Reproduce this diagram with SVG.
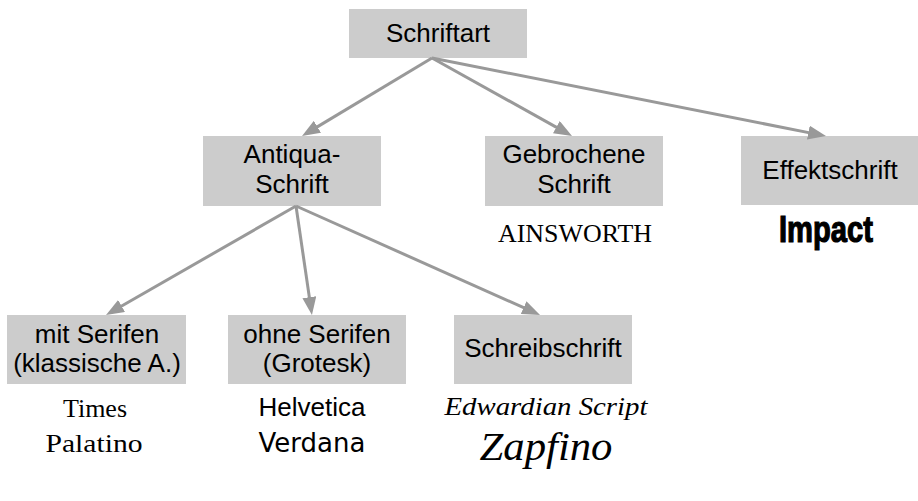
<svg xmlns="http://www.w3.org/2000/svg" width="918" height="501" viewBox="0 0 918 501">
<style>
.box{fill:#cccccc}
.lbl{font-family:"Liberation Sans",Arial,Helvetica,sans-serif;font-size:26px;fill:#000;text-anchor:middle}
.conn{stroke:#999999;stroke-width:3;fill:none;marker-end:url(#ah)}
.serif{font-family:"Liberation Serif","Times New Roman",serif;font-size:26px;fill:#000;text-anchor:middle}
.sans{font-family:"Liberation Sans",Arial,sans-serif;font-size:26px;fill:#000;text-anchor:middle}
.verd{font-family:"DejaVu Sans",Verdana,sans-serif;font-size:26px;fill:#000;text-anchor:middle}
.script{font-family:"Liberation Serif",serif;font-style:italic;fill:#000;text-anchor:middle}
</style>
<defs>
<marker id="ah" markerUnits="userSpaceOnUse" markerWidth="18" markerHeight="14" viewBox="0 0 18 14" refX="8" refY="7" orient="auto">
<path d="M0,0 L18,7 L0,14 z" fill="#999999"/>
</marker>
</defs>
<rect width="918" height="501" fill="#ffffff"/>
<g id="n-schriftart">
<rect class="box" x="349" y="9" width="178" height="49"/>
<text class="lbl" x="438" y="42">Schriftart</text>
</g>
<g id="n-antiqua">
<rect class="box" x="203" y="136" width="178" height="70"/>
<text class="lbl" x="292" y="163">Antiqua-</text>
<text class="lbl" x="292" y="193">Schrift</text>
</g>
<g id="n-gebrochene">
<rect class="box" x="485" y="136" width="178" height="70"/>
<text class="lbl" x="574" y="163">Gebrochene</text>
<text class="lbl" x="574" y="193">Schrift</text>
<text class="serif" x="575" y="242" font-size="27" textLength="154" lengthAdjust="spacingAndGlyphs">AINSWORTH</text>
</g>
<g id="n-effekt">
<rect class="box" x="741" y="136" width="178" height="69"/>
<text class="lbl" x="830" y="179">Effektschrift</text>
<text x="826" y="242" font-family="Impact,'Liberation Sans',sans-serif" font-weight="bold" font-size="36" text-anchor="middle" stroke="#000" stroke-width="1.2" textLength="94" lengthAdjust="spacingAndGlyphs">Impact</text>
</g>
<g id="n-mit">
<rect class="box" x="7" y="315" width="179" height="69"/>
<text class="lbl" x="97" y="343">mit Serifen</text>
<text class="lbl" x="97" y="372">(klassische A.)</text>
<text class="serif" x="95" y="417">Times</text>
<text class="serif" x="94" y="452" textLength="97" lengthAdjust="spacingAndGlyphs">Palatino</text>
</g>
<g id="n-ohne">
<rect class="box" x="228" y="315" width="178" height="69"/>
<text class="lbl" x="317" y="343">ohne Serifen</text>
<text class="lbl" x="317" y="372">(Grotesk)</text>
<text class="sans" x="312" y="416">Helvetica</text>
<text class="verd" x="312" y="452">Verdana</text>
</g>
<g id="n-schreib">
<rect class="box" x="454" y="315" width="178" height="69"/>
<text class="lbl" x="543" y="357">Schreibschrift</text>
<text class="script" x="546" y="415" font-size="25" textLength="203" lengthAdjust="spacingAndGlyphs">Edwardian Script</text>
<text class="script" x="546" y="460" font-size="40" textLength="133" lengthAdjust="spacingAndGlyphs">Zapfino</text>
</g>
<g id="connectors">
<line class="conn" x1="432" y1="58" x2="310.6" y2="130.9"/>
<line class="conn" x1="432" y1="58" x2="563.3" y2="131.1"/>
<line class="conn" x1="432" y1="58" x2="816.2" y2="134.1"/>
<line class="conn" x1="296" y1="206" x2="114.7" y2="310.0"/>
<line class="conn" x1="296" y1="206" x2="310.5" y2="305.1"/>
<line class="conn" x1="296" y1="206" x2="530.9" y2="310.9"/>
</g>
</svg>
